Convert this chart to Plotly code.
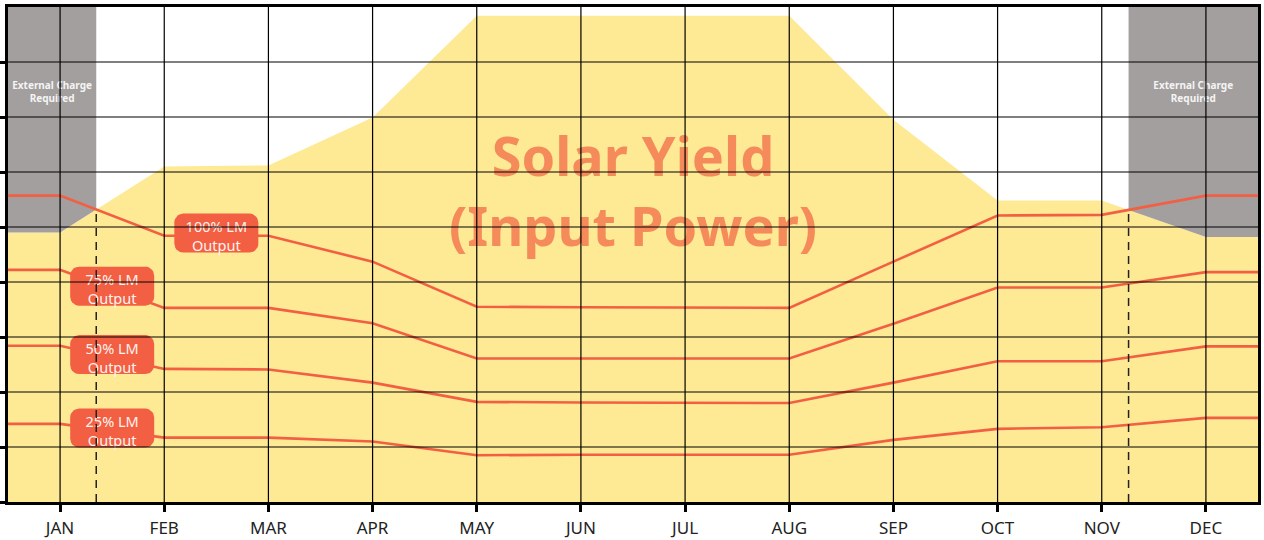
import numpy as np
import plotly.graph_objects as go

# ---------------- data ----------------
months = ["JAN", "FEB", "MAR", "APR", "MAY", "JUN", "JUL", "AUG", "SEP", "OCT", "NOV", "DEC"]
solar_yield = [4.90, 6.10, 6.12, 6.99, 8.84, 8.84, 8.84, 8.84, 6.95, 5.48, 5.48, 4.82]
lm100 = [5.57, 4.84, 4.84, 4.37, 3.55, 3.54, 3.54, 3.53, 4.37, 5.21, 5.22, 5.57]
lm75 = [4.22, 3.53, 3.53, 3.25, 2.61, 2.61, 2.61, 2.61, 3.24, 3.90, 3.90, 4.18]
lm50 = [2.84, 2.42, 2.41, 2.17, 1.82, 1.81, 1.81, 1.80, 2.17, 2.56, 2.56, 2.83]
lm25 = [1.42, 1.17, 1.17, 1.10, 0.85, 0.86, 0.86, 0.86, 1.13, 1.33, 1.36, 1.53]
series_names = ["100% LM<br>Output", "75% LM<br>Output", "50% LM<br>Output", "25% LM<br>Output"]
solar_text = "Solar Yield<br>(Input Power)"
charge_text = "External Charge<br>Required"

# ---------------- style / layout ----------------
YELLOW = "#FEE994"
GRAY = "#A39F9E"
ORANGE = "#F25F42"
SOLAR_TXT = "#F58A5A"
W, H = 1264, 540
ML, MR, MT, MB = 8, 6, 7, 38
X_RANGE = [-0.5, 11.5]
Y_RANGE = [0, 9]
PX_X = (W - ML - MR) / (X_RANGE[1] - X_RANGE[0])
PX_Y = (H - MT - MB) / (Y_RANGE[1] - Y_RANGE[0])
label_x = [1.5, 0.5, 0.5, 0.5]
label_dy = 0.05
text_dy_px = -5
BOX_W, BOX_H, BOX_R = 84, 39, 9

x = np.arange(len(months), dtype=float)
xe = np.concatenate([[X_RANGE[0]], x, [X_RANGE[1]]])


def ext(v):
    v = list(v)
    return np.array([v[0]] + v + [v[-1]], dtype=float)


s_e = ext(solar_yield)
l_e = ext(lm100)

# crossings of the 100% load line with the solar yield
diff = l_e - s_e
crossings = []
for i in range(len(xe) - 1):
    if diff[i] * diff[i + 1] < 0:
        t = diff[i] / (diff[i] - diff[i + 1])
        xc = xe[i] + t * (xe[i + 1] - xe[i])
        yc = s_e[i] + t * (s_e[i + 1] - s_e[i])
        crossings.append((xc, yc))

fig = go.Figure()

# solar yield area
fig.add_trace(go.Scatter(x=xe, y=s_e, mode="lines", fill="tozeroy",
                         fillcolor=YELLOW, line=dict(width=0, color=YELLOW),
                         hoverinfo="skip", showlegend=False))

# external charge regions (load above yield)
gray_regions = []
(xc1, yc1), (xc2, yc2) = crossings[0], crossings[-1]
mask_l = xe < xc1
gx = [X_RANGE[0], xc1, xc1] + list(xe[mask_l][::-1])
gy = [Y_RANGE[1], Y_RANGE[1], yc1] + list(s_e[mask_l][::-1])
gray_regions.append((gx, gy, (X_RANGE[0] + xc1) / 2))
mask_r = xe > xc2
gx = [xc2, X_RANGE[1]] + list(xe[mask_r][::-1]) + [xc2]
gy = [Y_RANGE[1], Y_RANGE[1]] + list(s_e[mask_r][::-1]) + [yc2]
gray_regions.append((gx, gy, (xc2 + X_RANGE[1]) / 2))
for gx, gy, _ in gray_regions:
    fig.add_trace(go.Scatter(x=gx, y=gy, mode="lines", fill="toself",
                             fillcolor=GRAY, line=dict(width=0, color=GRAY),
                             hoverinfo="skip", showlegend=False))

# load lines
all_series = [lm100, lm75, lm50, lm25]
for vals in all_series:
    fig.add_trace(go.Scatter(x=xe, y=ext(vals), mode="lines",
                             line=dict(color=ORANGE, width=2.6),
                             hoverinfo="skip", showlegend=False))

# solar text
fig.add_trace(go.Scatter(x=[5.5], y=[5.62 + text_dy_px / PX_Y], mode="text", text=[solar_text],
                         textposition="middle center",
                         textfont=dict(family="Noto Sans", size=54, color=SOLAR_TXT,
                                       weight="bold"),
                         hoverinfo="skip", showlegend=False))

# external charge texts
for _, _, cx in gray_regions:
    fig.add_trace(go.Scatter(x=[cx], y=[7.53 + text_dy_px / PX_Y], mode="text", text=[charge_text],
                             textposition="middle center",
                             textfont=dict(family="Noto Sans", size=10, color="#F4F4F4",
                                           weight="bold"),
                             hoverinfo="skip", showlegend=False))


def rounded_box(cx, cy, w, h, r):
    hw, hh = w / 2 - r, h / 2 - r
    pts = []
    for (sx, sy, a0) in [(1, 1, 0), (-1, 1, 90), (-1, -1, 180), (1, -1, 270)]:
        for a in np.linspace(a0, a0 + 90, 8):
            px = sx * hw + r * np.cos(np.radians(a))
            py = sy * hh + r * np.sin(np.radians(a))
            pts.append((cx + px / PX_X, cy + py / PX_Y))
    pts.append(pts[0])
    return [p[0] for p in pts], [p[1] for p in pts]


# labels
for vals, name, lx in zip(all_series, series_names, label_x):
    ly = float(np.interp(lx, x, vals)) + label_dy
    bx, by = rounded_box(lx, ly, BOX_W, BOX_H, BOX_R)
    fig.add_trace(go.Scatter(x=bx, y=by, mode="lines", fill="toself",
                             fillcolor=ORANGE, line=dict(width=0, color=ORANGE),
                             hoverinfo="skip", showlegend=False))
    fig.add_trace(go.Scatter(x=[lx], y=[ly + text_dy_px / PX_Y], mode="text", text=[name],
                             textposition="middle center",
                             textfont=dict(family="Noto Sans", size=14.5, color="#FFF3EF"),
                             hoverinfo="skip", showlegend=False))

# grid lines above everything
shapes = []
for xv in x:
    shapes.append(dict(type="line", xref="x", yref="y", x0=xv, x1=xv,
                       y0=Y_RANGE[0], y1=Y_RANGE[1], layer="above",
                       line=dict(color="black", width=1.2)))
for yv in range(Y_RANGE[0] + 1, Y_RANGE[1]):
    shapes.append(dict(type="line", xref="x", yref="y", x0=X_RANGE[0], x1=X_RANGE[1],
                       y0=yv, y1=yv, layer="above",
                       line=dict(color="black", width=1.2)))
for xc, yc in crossings:
    shapes.append(dict(type="line", xref="x", yref="y", x0=xc, x1=xc,
                       y0=Y_RANGE[0], y1=yc, layer="above",
                       line=dict(color="#222222", width=1.5, dash="8px,6px")))

fig.update_layout(
    width=W, height=H,
    margin=dict(l=ML, r=MR, t=MT, b=MB, autoexpand=False),
    paper_bgcolor="white", plot_bgcolor="white",
    shapes=shapes,
    showlegend=False,
    hovermode=False,
    xaxis=dict(range=X_RANGE, tickvals=list(x), ticktext=months, automargin=False,
               showgrid=False, zeroline=False,
               showline=True, mirror=True, linecolor="black", linewidth=2.5,
               ticks="outside", ticklen=7, tickwidth=2.5, tickcolor="black",
               ticklabelstandoff=2,
               tickfont=dict(family="Noto Sans", size=17, color="#222222")),
    yaxis=dict(range=Y_RANGE, tickvals=list(range(Y_RANGE[0], Y_RANGE[1])), automargin=False,
               showticklabels=False, showgrid=False, zeroline=False,
               showline=True, mirror=True, linecolor="black", linewidth=2.5,
               ticks="outside", ticklen=8, tickwidth=2.5, tickcolor="black"),
)

fig.write_html("out.html",
               config={"displayModeBar": False},
               post_script="document.body.style.margin='0';document.body.style.overflow='hidden';")
